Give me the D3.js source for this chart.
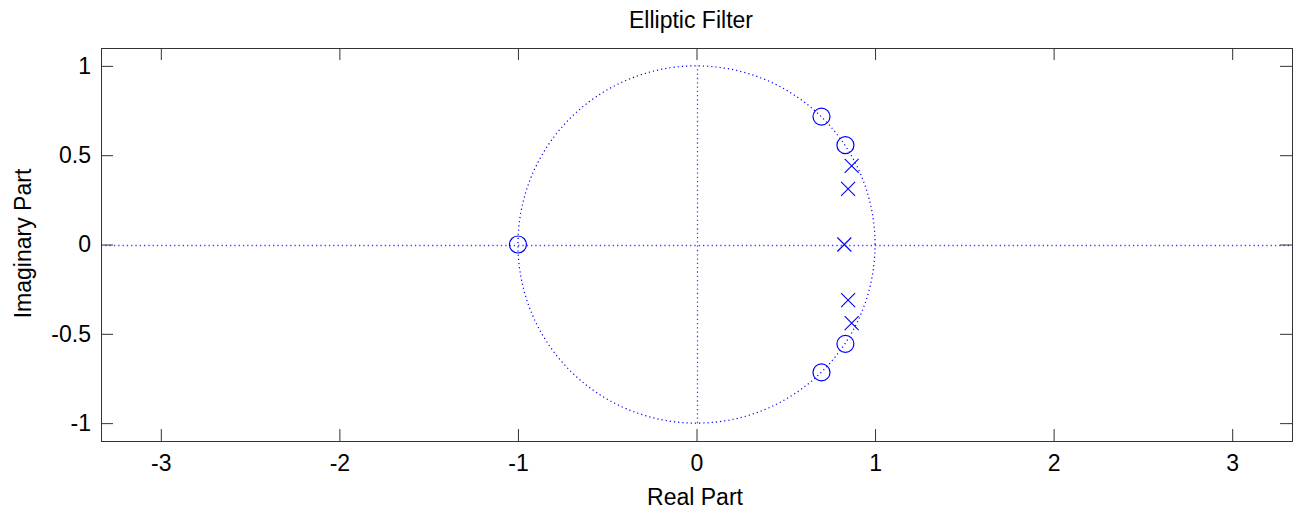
<!DOCTYPE html>
<html>
<head>
<meta charset="utf-8">
<script src="https://cdn.jsdelivr.net/npm/d3@7"></script>
<style>
  body { margin: 0; background: #fff; }
  svg { display: block; }
  text { font-family: "Liberation Sans", Arial, sans-serif; fill: #000; }
</style>
</head>
<body>
<div id="chart"></div>
<script>
// zeros and poles of the filter (real, imag)
const zerosRe = [-1, 0.70, 0.70, 0.834, 0.834];
const zerosIm = [0, 0.716, -0.716, 0.556, -0.556];
const polesRe = [0.828, 0.849, 0.849, 0.869, 0.869];
const polesIm = [0, 0.312, -0.312, 0.440, -0.440];
const xTicks = [-3, -2, -1, 0, 1, 2, 3];
const yTicks = [-1, -0.5, 0, 0.5, 1];

const width = 1298;
const height = 516;
const margin = { left: 101, right: 6, top: 48, bottom: 75 };
const blue = '#0000ff';
const dotBlue = '#4040ff';
const fontSize = '23px';

const svg = d3.select('#chart')
    .append('svg')
    .attr('width', width)
    .attr('height', height);

const x = d3.scaleLinear()
    .domain([-3.335, 3.335])
    .range([margin.left, width - margin.right]);
const y = d3.scaleLinear()
    .domain([-1.1, 1.1])
    .range([height - margin.bottom, margin.top]);

const plotW = width - margin.right - margin.left;
const plotH = height - margin.bottom - margin.top;

// unit circle
const circ = d3.range(0, 361, 1).map(a => [Math.cos(a * Math.PI / 180), Math.sin(a * Math.PI / 180)]);
const line = d3.line().x(d => x(d[0])).y(d => y(d[1]));
svg.append('path')
    .attr('d', line(circ))
    .attr('fill', 'none')
    .attr('stroke', blue)
    .attr('stroke-width', 1.2)
    .attr('stroke-dasharray', '1.2,3');

// axis lines through the origin
svg.append('line')
    .attr('x1', x(-3.335)).attr('x2', x(3.335))
    .attr('y1', Math.round(y(0)) + 0.5).attr('y2', Math.round(y(0)) + 0.5)
    .attr('stroke', dotBlue)
    .attr('stroke-width', 1.3)
    .attr('stroke-dasharray', '1.3,3');
svg.append('line')
    .attr('x1', Math.round(x(0)) + 0.5).attr('x2', Math.round(x(0)) + 0.5)
    .attr('y1', y(-1)).attr('y2', y(1))
    .attr('stroke', dotBlue)
    .attr('stroke-width', 1.3)
    .attr('stroke-dasharray', '1.3,3');

// axes, ticks pointing inward
const axisColor = '#333';
const fmt = d => String(d);
const gx = svg.append('g')
    .attr('transform', `translate(0,${height - margin.bottom})`)
    .call(d3.axisBottom(x).tickValues(xTicks).tickSizeInner(-12).tickSizeOuter(0).tickPadding(14).tickFormat(fmt));
const gxTop = svg.append('g')
    .attr('transform', `translate(0,${margin.top})`)
    .call(d3.axisTop(x).tickValues(xTicks).tickSizeInner(-12).tickSizeOuter(0).tickFormat(''));
const gy = svg.append('g')
    .attr('transform', `translate(${margin.left},0)`)
    .call(d3.axisLeft(y).tickValues(yTicks).tickSizeInner(-12).tickSizeOuter(0).tickPadding(10).tickFormat(fmt));
const gyRight = svg.append('g')
    .attr('transform', `translate(${width - margin.right},0)`)
    .call(d3.axisRight(y).tickValues(yTicks).tickSizeInner(-12).tickSizeOuter(0).tickFormat(''));

[gx, gxTop, gy, gyRight].forEach(g => {
    g.selectAll('.domain').remove();
    g.selectAll('.tick line').attr('stroke', axisColor);
    g.selectAll('text')
        .style('font-family', '"Liberation Sans", Arial, sans-serif')
        .style('font-size', fontSize)
        .attr('fill', '#000');
});

// box
svg.append('rect')
    .attr('x', margin.left + 0.5)
    .attr('y', margin.top + 0.5)
    .attr('width', plotW)
    .attr('height', plotH)
    .attr('fill', 'none')
    .attr('stroke', axisColor)
    .attr('stroke-width', 1);

// zeros
const zeros = zerosRe.map((r, i) => ({ re: r, im: zerosIm[i] }));
svg.selectAll('circle.zero')
    .data(zeros)
    .join('circle')
    .attr('class', 'zero')
    .attr('cx', d => x(d.re))
    .attr('cy', d => y(d.im))
    .attr('r', 8.5)
    .attr('fill', 'none')
    .attr('stroke', blue)
    .attr('stroke-width', 1.2);

// poles
const poles = polesRe.map((r, i) => ({ re: r, im: polesIm[i] }));
const s = 7;
svg.selectAll('path.pole')
    .data(poles)
    .join('path')
    .attr('class', 'pole')
    .attr('d', d => {
        const cx = x(d.re), cy = y(d.im);
        return `M${cx - s},${cy - s}L${cx + s},${cy + s}M${cx - s},${cy + s}L${cx + s},${cy - s}`;
    })
    .attr('fill', 'none')
    .attr('stroke', blue)
    .attr('stroke-width', 1.1);

// labels
svg.append('text')
    .attr('x', 691)
    .attr('y', 28)
    .attr('text-anchor', 'middle')
    .style('font-size', fontSize)
    .text('Elliptic Filter');
svg.append('text')
    .attr('x', 695)
    .attr('y', 505)
    .attr('text-anchor', 'middle')
    .style('font-size', fontSize)
    .text('Real Part');
svg.append('text')
    .attr('transform', `translate(31,${y(0) - 1}) rotate(-90)`)
    .attr('text-anchor', 'middle')
    .style('font-size', fontSize)
    .text('Imaginary Part');
</script>
</body>
</html>
